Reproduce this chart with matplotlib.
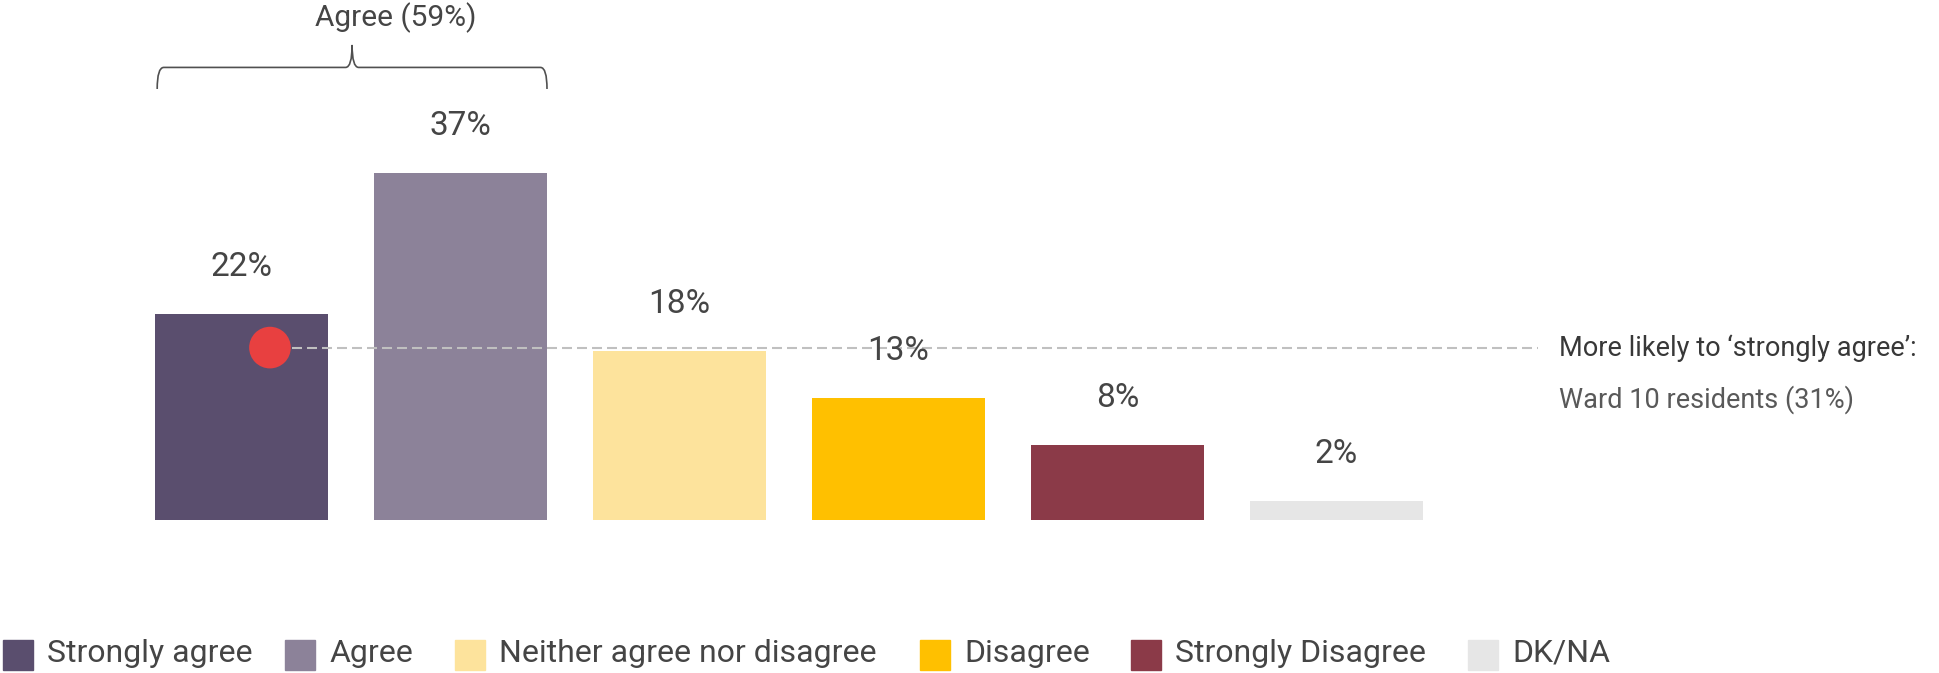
import matplotlib

matplotlib.use("Agg")
import matplotlib.pyplot as plt
from matplotlib.patches import PathPatch, Rectangle
from matplotlib.path import Path

# ── Data ────────────────────────────────────────────────────────────────────
categories = ["Strongly agree", "Agree", "Neither agree nor disagree",
              "Disagree", "Strongly Disagree", "DK/NA"]
shares = [22, 37, 18, 13, 8, 2]
colors = ["#5a4e6e", "#8c8299", "#fde39c", "#ffc000", "#8b3a48", "#e6e6e6"]
agree_group = [0, 1]                 # bars summed under the bracket
highlight_level = 18.4               # height of the red marker / dashed guide
callout_lines = ["More likely to \u2018strongly agree\u2019:",
                 "Ward 10 residents (31%)"]

TEXT = "#454545"
FONT = "Roboto"

W, H, DPI = 1940, 673, 100
fig = plt.figure(figsize=(W / DPI, H / DPI), dpi=DPI)
ax = fig.add_axes([0, 0, 1, 1])
ax.axis("off")

# pixel layout: first bar centre, bar pitch, baseline, px per percentage point
x0_px, pitch_px, base_px, ppp = 241.5, 219.0, 520.0, 9.37
ax.set_xlim(-x0_px / pitch_px, (W - x0_px) / pitch_px)
ax.set_ylim(-(H - base_px) / ppp, base_px / ppp)

width = 0.79
xs = list(range(len(shares)))
bars = ax.bar(xs, shares, width=width, color=colors, zorder=2)

for x, v in zip(xs, shares):
    ax.annotate(f"{v}%", (x, v), xytext=(0, 47), textcoords="offset pixels",
                ha="center", va="center", fontsize=24, color=TEXT,
                family=FONT, zorder=4)

# dashed guide with red marker on the first bar
dot_x = 0.13
ax.plot([dot_x + 0.1, 5.92], [highlight_level] * 2, color="#c0c0c0",
        lw=1.5, dashes=(4.8, 2.4), zorder=3)
ax.scatter([dot_x], [highlight_level], s=900, color="#e84040",
           edgecolor="none", zorder=4)

fig.text(1559 / W, 1 - 348 / H, callout_lines[0], ha="left", va="center",
         fontsize=19.5, color="#383838", family=FONT)
fig.text(1559 / W, 1 - 400 / H, callout_lines[1], ha="left", va="center",
         fontsize=19.5, color="#595959", family=FONT)

# curly bracket over the "agree" bars
left = agree_group[0] - width / 2 + 0.01
right = agree_group[-1] + width / 2
mid = (left + right) / 2
y_end, y_bar, y_tip = 46.0, 48.3, 50.7
r = 0.03
verts = [
    (left, y_end), (left, y_bar), (left + r, y_bar),
    (mid - r, y_bar), (mid, y_bar), (mid, y_tip),
    (mid, y_bar), (mid + r, y_bar),
    (right - r, y_bar), (right, y_bar), (right, y_end),
]
codes = [
    Path.MOVETO, Path.CURVE3, Path.CURVE3,
    Path.LINETO, Path.CURVE3, Path.CURVE3,
    Path.CURVE3, Path.CURVE3,
    Path.LINETO, Path.CURVE3, Path.CURVE3,
]
ax.add_patch(PathPatch(Path(verts, codes), fill=False, edgecolor="#505050",
                       lw=1.2, zorder=3))
agree_total = sum(shares[i] for i in agree_group)
ax.text(0.705, 53.6, f"Agree ({agree_total}%)", ha="center", va="center",
        fontsize=21.5, color=TEXT, family=FONT)

# legend row along the bottom edge (swatch left edges in px)
swatch_px = [3, 285, 455, 920, 1131, 1468]
sq = 30
y_mid = 653
for name, c, x_px in zip(categories, colors, swatch_px):
    fig.patches.append(Rectangle((x_px / W, 1 - (640 + sq) / H), sq / W, sq / H,
                                 transform=fig.transFigure, color=c,
                                 figure=fig))
    fig.text((x_px + sq + 14) / W, 1 - y_mid / H, name, ha="left",
             va="center", fontsize=23, color=TEXT, family=FONT)

fig.savefig("out.png", dpi=DPI)
